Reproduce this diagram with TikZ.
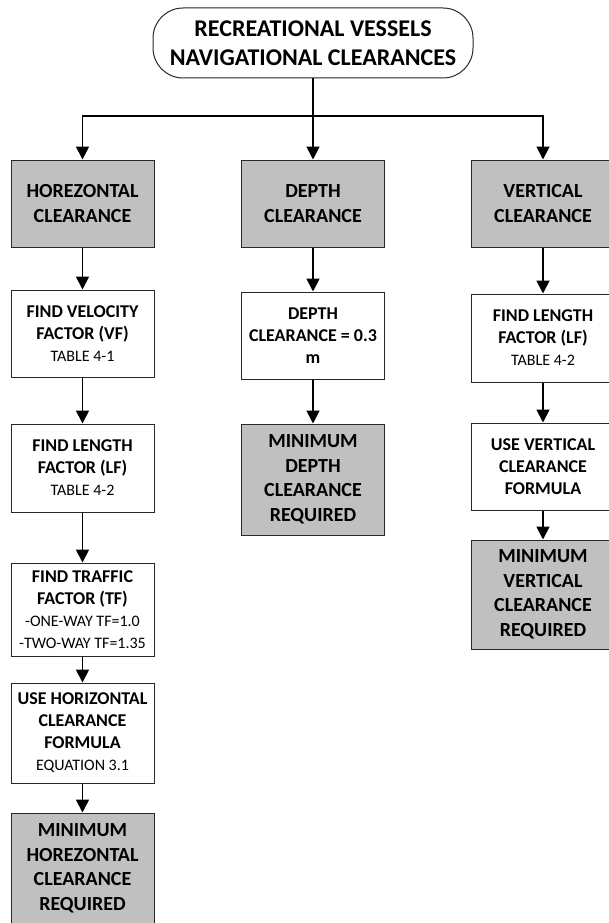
\documentclass[tikz,border=0pt]{standalone}
\usepackage{fontspec}
\setmainfont{Carlito}
\usetikzlibrary{arrows.meta}

\definecolor{boxgrey}{RGB}{192,192,192}
\definecolor{edge}{RGB}{40,40,40}

\tikzset{
  base/.style={draw=edge, line width=1pt, inner sep=0pt, align=center,
               anchor=center, text=black},
  greybox/.style={base, fill=boxgrey, minimum width=143pt,
                  font=\bfseries\fontsize{20}{24.5}\selectfont},
  whitebox/.style={base, fill=white, minimum width=143pt,
                   font=\bfseries\fontsize{18}{22}\selectfont},
  titlebox/.style={base, fill=white, rounded corners=30pt, minimum width=320pt,
                   minimum height=70pt, font=\bfseries\fontsize{24}{28.5}\selectfont},
  flow/.style={line width=1.8pt, -{Triangle[width=13pt,length=13pt]}},
  plain/.style={line width=1.8pt}
}
\newcommand{\sub}[1]{{\mdseries\fontsize{16}{20}\selectfont #1}}

\begin{document}
\begin{tikzpicture}[x=1pt, y=-1pt]
  \useasboundingbox (0,0) rectangle (608,923);

  % heading
  \node[titlebox] (top) at (313,43) {RECREATIONAL VESSELS\\NAVIGATIONAL CLEARANCES};

  % three clearance branches
  \node[greybox, minimum height=87pt] (hc) at (82.5,203.5) {HOREZONTAL\\CLEARANCE};
  \node[greybox, minimum height=87pt] (dc) at (313,203.5) {DEPTH\\CLEARANCE};
  \node[greybox, minimum height=87pt] (vc) at (543,203.5) {VERTICAL\\CLEARANCE};

  % horizontal clearance steps
  \node[whitebox, minimum height=87pt] (vf) at (82.5,333.5) {FIND VELOCITY\\FACTOR (VF)\\\sub{TABLE 4-1}};
  \node[whitebox, minimum height=88pt] (lf) at (82.5,468) {FIND LENGTH\\FACTOR (LF)\\\sub{TABLE 4-2}};
  \node[whitebox, minimum height=93pt] (tf) at (82.5,609.5) {FIND TRAFFIC\\FACTOR (TF)\\\sub{-ONE-WAY TF=1.0}\\\sub{-TWO-WAY TF=1.35}};
  \node[whitebox, minimum height=100pt] (hf) at (82.5,733) {USE HORIZONTAL\\CLEARANCE\\FORMULA\\\sub{EQUATION 3.1}};
  \node[greybox, minimum height=111pt] (hmin) at (82.5,868.5) {MINIMUM\\HOREZONTAL\\CLEARANCE\\REQUIRED};

  % depth clearance steps
  \node[whitebox, minimum height=87pt] (dv) at (313,335.5) {DEPTH\\CLEARANCE = 0.3\\m};
  \node[greybox, minimum height=111pt] (dmin) at (313,479.5) {MINIMUM\\DEPTH\\CLEARANCE\\REQUIRED};

  % vertical clearance steps
  \node[whitebox, minimum height=88pt] (vlf) at (543,338) {FIND LENGTH\\FACTOR (LF)\\\sub{TABLE 4-2}};
  \node[whitebox, minimum height=87pt] (vfm) at (543,466.5) {USE VERTICAL\\CLEARANCE\\FORMULA};
  \node[greybox, minimum height=109pt] (vmin) at (543,594.5) {MINIMUM\\VERTICAL\\CLEARANCE\\REQUIRED};

  % branching connectors
  \coordinate (bus) at (313,116);
  \draw[flow] (top.south) -- (dc.north);
  \draw[flow] (bus) -| (hc.north);
  \draw[flow] (bus) -| (vc.north);

  % column connectors
  \draw[flow] (hc) -- (vf);
  \draw[flow] (vf) -- (lf);
  \draw[flow] (lf) -- (tf);
  \draw[flow] (tf) -- (hf);
  \draw[flow] (hf) -- (hmin);

  \draw[flow] (dc) -- (dv);
  \draw[flow] (dv) -- (dmin);

  \draw[flow] (vc) -- (vlf);
  \draw[flow] (vlf) -- (vfm);
  \draw[flow] (vfm) -- (vmin);
\end{tikzpicture}
\end{document}
